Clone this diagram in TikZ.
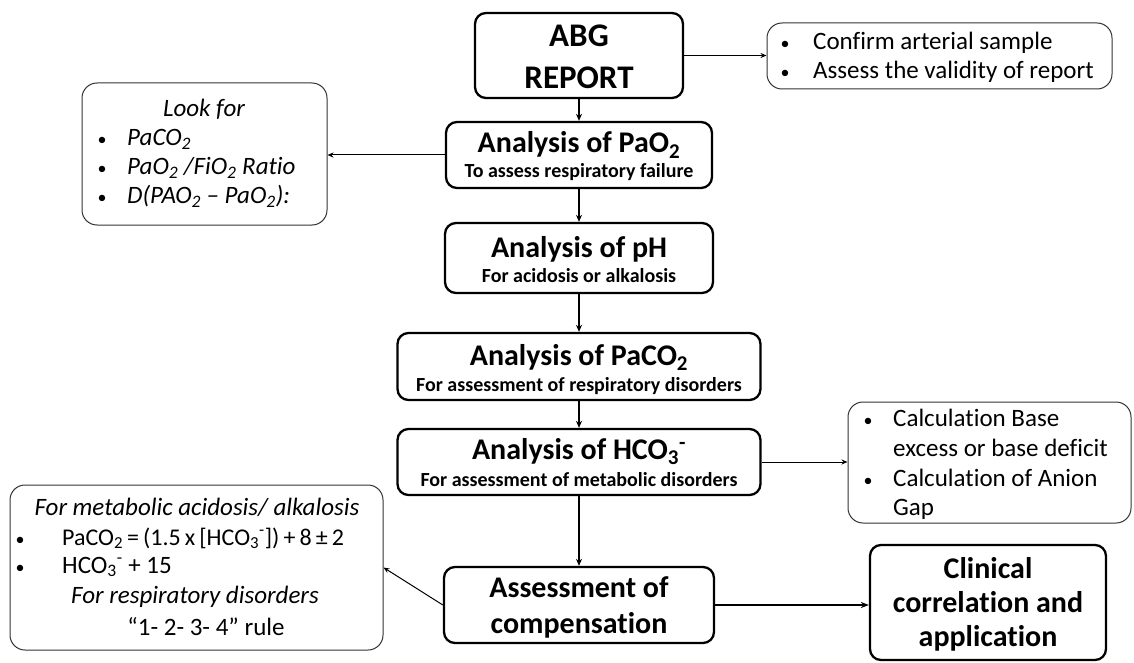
\documentclass[tikz,border=0pt]{standalone}
\usepackage{fontspec}
\setmainfont{Carlito}[Ligatures=NoCommon]
\usetikzlibrary{arrows.meta}
\begin{document}
\begin{tikzpicture}[x=1pt,y=-1pt,
  mainbox/.style={draw=black, line width=2.3pt, rounded corners=11pt, inner sep=0pt},
  notebox/.style={draw=black!80, line width=1pt, rounded corners=15pt, inner sep=0pt},
  ttl/.style={anchor=base, font=\fontsize{30}{36}\selectfont\bfseries, inner sep=0pt},
  bigttl/.style={anchor=base, font=\fontsize{33}{38}\selectfont\bfseries, inner sep=0pt},
  subttl/.style={anchor=base, font=\fontsize{20}{24}\selectfont\bfseries, inner sep=0pt},
  txt/.style={anchor=base west, font=\fontsize{25}{30}\selectfont, inner sep=0pt},
  itxt/.style={anchor=base west, font=\fontsize{25}{30}\selectfont\itshape, inner sep=0pt},
  ctxt/.style={anchor=base, font=\fontsize{25}{30}\selectfont, inner sep=0pt},
  ictxt/.style={anchor=base, font=\fontsize{25}{30}\selectfont\itshape, inner sep=0pt},
  bul/.style={anchor=base, font=\fontsize{18}{20}\selectfont, inner sep=0pt},
  flow/.style={line width=1.6pt, -{Stealth[length=7pt,width=6pt]}},
  side/.style={line width=1pt, -{Stealth[length=6pt,width=5pt]}},
  heavy/.style={line width=2pt, -{Stealth[length=8pt,width=6pt]}},
]
\useasboundingbox (0,0) rectangle (1134,663);

% ---------- main column ----------
\node[mainbox, minimum width=208pt, minimum height=85pt] (abg)   at (579,55.5) {};
\node[mainbox, minimum width=266pt, minimum height=66pt] (pao2)  at (579,155) {};
\node[mainbox, minimum width=268pt, minimum height=70pt] (ph)    at (579,258) {};
\node[mainbox, minimum width=363pt, minimum height=67pt] (paco2) at (579,366.5) {};
\node[mainbox, minimum width=363pt, minimum height=66pt] (hco3)  at (579,462) {};
\node[mainbox, minimum width=270pt, minimum height=76pt] (comp)  at (579,605) {};
\node[mainbox, minimum width=236pt, minimum height=115pt] (clin) at (988,602.5) {};

\node[bigttl] (abgA) at (579,47) {ABG};
\node[bigttl] (abgB) at (579,89) {REPORT};

\node[ttl]    (pao2A) at (579,153) {Analysis of PaO\textsubscript{2}};
\node[subttl] (pao2B) at (579,178) {To assess respiratory failure};

\node[ttl]    (phA) at (579,257) {Analysis of pH};
\node[subttl] (phB) at (579,282) {For acidosis or alkalosis};

\node[ttl]    (paco2A) at (579,365) {Analysis of PaCO\textsubscript{2}};
\node[subttl] (paco2B) at (579,391) {For assessment of respiratory disorders};

\node[ttl]    (hco3A) at (579,459) {Analysis of HCO\textsubscript{3}\textsuperscript{-}};
\node[subttl] (hco3B) at (579,486) {For assessment of metabolic disorders};

\node[ttl] (compA) at (579,597) {Assessment of};
\node[ttl] (compB) at (579,633) {compensation};

\node[ttl] (clinA) at (988,578) {Clinical};
\node[ttl] (clinB) at (988,612) {correlation and};
\node[ttl] (clinC) at (988,646) {application};

% ---------- side notes ----------
\node[notebox, minimum width=345pt, minimum height=66pt] (check) at (939.5,56) {};
\node[bul] (checkB1) at (785,50) {•};
\node[txt] (checkT1) at (813,50) {Confirm arterial sample};
\node[bul] (checkB2) at (785,79) {•};
\node[txt] (checkT2) at (813,79) {Assess the validity of report};

\node[notebox, minimum width=245pt, minimum height=142pt] (look) at (204.5,154) {};
\node[ictxt] (lookH) at (204,117) {Look for};
\node[bul] (lookB1) at (102,146) {•};
\node[itxt] (lookT1) at (127,146) {PaCO\textsubscript{2}};
\node[bul] (lookB2) at (102,175) {•};
\node[itxt] (lookT2) at (127,175) {PaO\textsubscript{2} /FiO\textsubscript{2} Ratio};
\node[bul] (lookB3) at (102,204) {•};
\node[itxt] (lookT3) at (127,204) {D(PAO\textsubscript{2} – PaO\textsubscript{2}):};

\node[notebox, minimum width=283pt, minimum height=121pt] (base) at (989.5,462.5) {};
\node[bul] (baseB1) at (868,426) {•};
\node[txt] (baseT1) at (893,426) {Calculation Base};
\node[txt] (baseT2) at (893,456) {excess or base deficit};
\node[bul] (baseB2) at (868,486) {•};
\node[txt] (baseT3) at (893,486) {Calculation of Anion};
\node[txt] (baseT4) at (893,515) {Gap};

\node[notebox, minimum width=373pt, minimum height=165pt] (rules) at (196.5,567.5) {};
\node[ictxt] (rulesH1) at (197,515) {For metabolic acidosis/ alkalosis};
\node[bul] (rulesB1) at (20,545) {•};
\node[txt, font=\fontsize{24}{28}\selectfont] (rulesT1) at (62,545) {\spaceskip=0.17em\relax PaCO\textsubscript{2} = (1.5 x [HCO\textsubscript{3}\textsuperscript{-}]) + 8 ± 2};
\node[bul] (rulesB2) at (20,573) {•};
\node[txt] (rulesT2) at (62,573) {HCO\textsubscript{3}\textsuperscript{-} + 15};
\node[ictxt] (rulesH2) at (195,603) {For respiratory disorders};
\node[ctxt] (rulesT3) at (206,635) {“1- 2- 3- 4” rule};

% ---------- connectors ----------
\draw[flow] (abg.south) -- (abg.south |- pao2.north);
\draw[flow] (pao2.south) -- (pao2.south |- ph.north);
\draw[flow] (ph.south) -- (ph.south |- paco2.north);
\draw[flow] (paco2.south) -- (paco2.south |- hco3.north);
\draw[flow] (hco3.south) -- (hco3.south |- comp.north);

\draw[side] (abg.east) -- (abg.east -| check.west);
\draw[side] (pao2.west) -- (pao2.west -| look.east);
\draw[side] (hco3.east) -- (hco3.east -| base.west);
\draw[side] (comp.west) -- (rules.east);
\draw[heavy] (comp.east) -- (comp.east -| clin.west);
\end{tikzpicture}
\end{document}
